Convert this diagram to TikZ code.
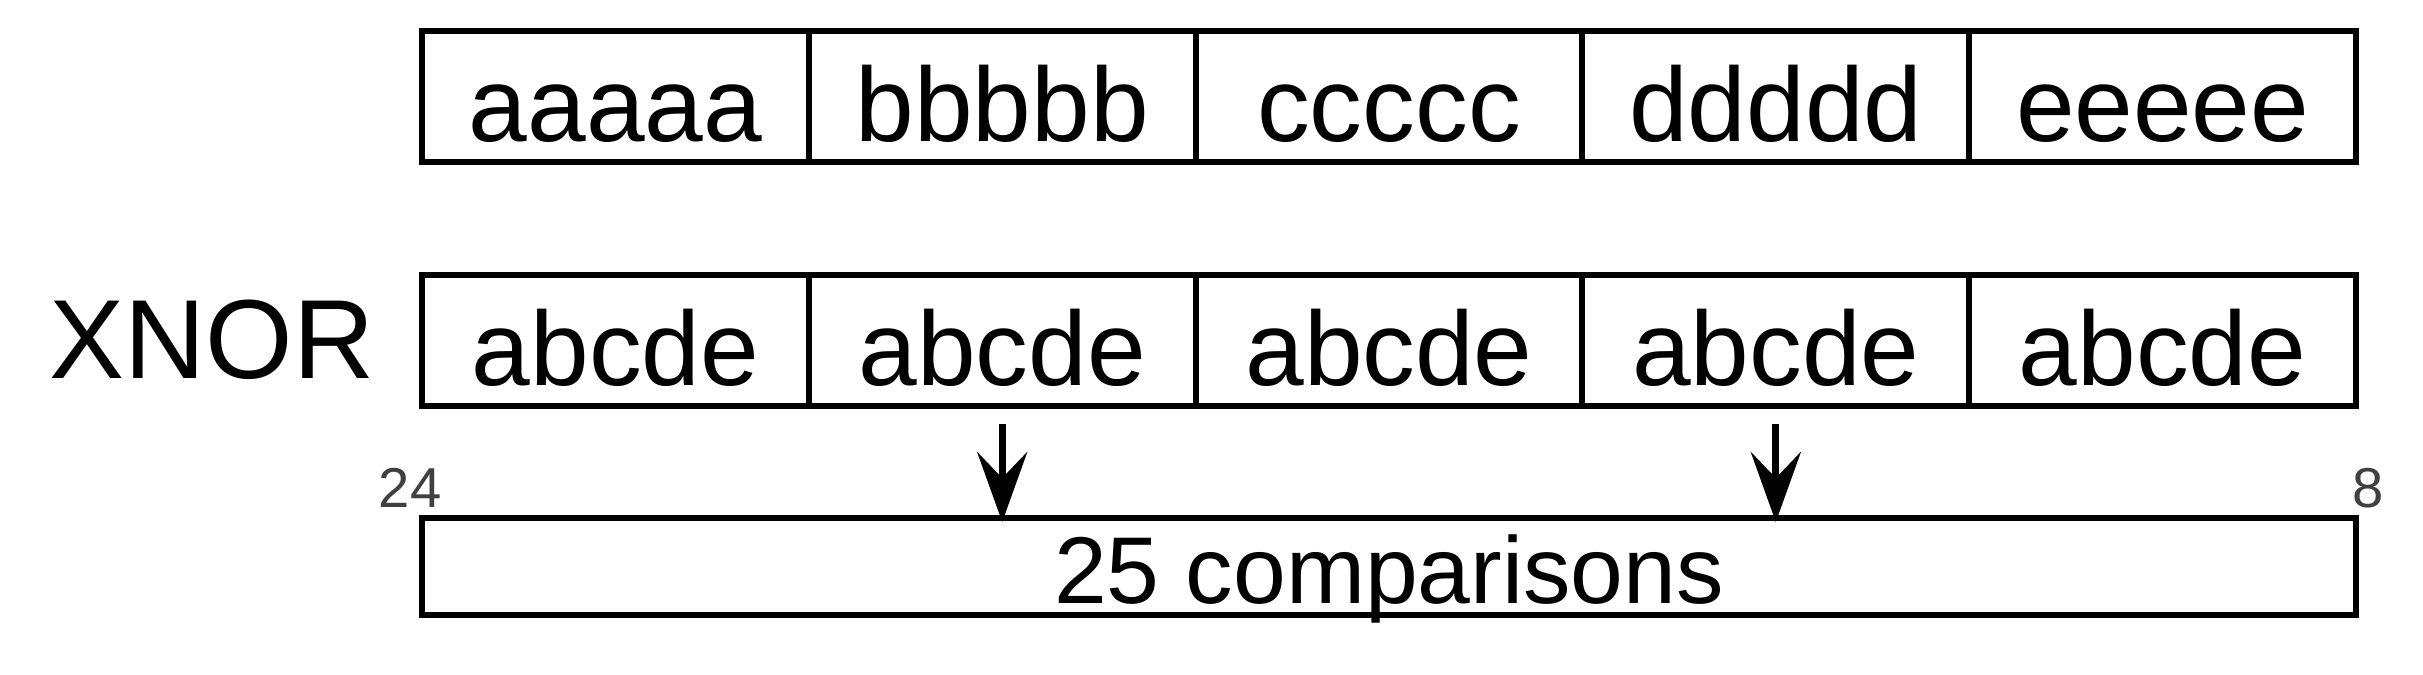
\documentclass[tikz,border=0pt]{standalone}
\usepackage{fontspec}
\setmainfont{Liberation Sans}
\usetikzlibrary{positioning,arrows.meta}

\begin{document}
\begin{tikzpicture}[
    cell/.style={draw,line width=1.7pt,inner sep=0pt,
      minimum width=3.868cm,minimum height=1.31cm,
      text height=0.9cm,text depth=0pt,
      font=\fontsize{30}{36}\selectfont},
    bar/.style={draw,line width=1.7pt,inner sep=0pt,
      minimum width=19.34cm,minimum height=0.97cm,
      text height=0.74cm,text depth=0pt,
      font=\fontsize{27}{32}\selectfont},
    gate/.style={inner sep=0pt,font=\fontsize{32}{40}\selectfont},
    tick/.style={inner sep=0pt,text=black!75,font=\fontsize{16}{19}\selectfont},
    pointer/.style={-{Stealth[length=7mm,width=5mm,inset=2.6mm]},line width=2pt}]

      \useasboundingbox (0,0) rectangle (24.23,-6.74);

      \begin{scope}[every node/.style={cell}]
        \node (t1) at (6.154,-0.965) {aaaaa};
        \node (t2) at (10.022,-0.965) {bbbbb};
        \node (t3) at (13.890,-0.965) {ccccc};
        \node (t4) at (17.758,-0.965) {ddddd};
        \node (t5) at (21.626,-0.965) {eeeee};

        \node (m1) at (6.154,-3.40) {abcde};
        \node (m2) at (10.022,-3.40) {abcde};
        \node (m3) at (13.890,-3.40) {abcde};
        \node (m4) at (17.758,-3.40) {abcde};
        \node (m5) at (21.626,-3.40) {abcde};
      \end{scope}

      \node[gate,left=0.44cm of m1] (xnor) {XNOR};

      \node[bar] (cmp) at (13.89,-5.665) {25 comparisons};
      \node[tick,anchor=base] (lo) at ([xshift=-0.09cm,yshift=0.08cm]cmp.north west) {24};
      \node[tick,anchor=base] (hi) at ([xshift=0.09cm,yshift=0.08cm]cmp.north east) {8};

      \draw[pointer] ([yshift=-0.15cm]m2.south) -- ([yshift=-0.07cm]m2.south |- cmp.north);
      \draw[pointer] ([yshift=-0.15cm]m4.south) -- ([yshift=-0.07cm]m4.south |- cmp.north);

    \end{tikzpicture}
\end{document}
